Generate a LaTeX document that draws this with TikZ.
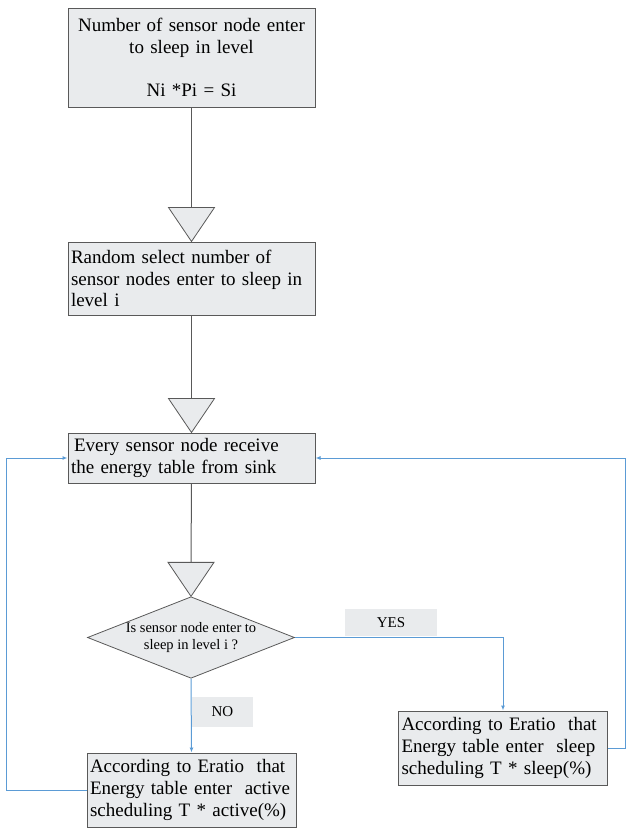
\documentclass[tikz,border=0pt]{standalone}
\usepackage{fontspec}
\setmainfont{Liberation Serif}
\usetikzlibrary{shapes.geometric,arrows.meta,calc}

\definecolor{boxgray}{HTML}{E9EBED}
\definecolor{edgegray}{HTML}{595959}
\definecolor{flowblue}{HTML}{5B9BD5}

\tikzset{
  box/.style={draw=edgegray, fill=boxgray, line width=1pt, inner sep=3pt,
    font=\rmfamily\fontsize{19}{21.5}\selectfont},
  step box/.style={box, minimum width=247pt, text width=241pt, align=left},
  sched/.style={box, text width=203pt, align=left, minimum height=74pt,
    font=\rmfamily\fontsize{19}{22}\selectfont},
  ask/.style={diamond, draw=edgegray, fill=boxgray, line width=0.8pt, inner sep=0pt,
    aspect=2.54, minimum width=206pt, minimum height=81pt, align=center,
    font=\rmfamily\fontsize{14.5}{17}\selectfont},
  tag/.style={fill=boxgray, inner sep=0pt, font=\rmfamily\fontsize{15}{17}\selectfont},
  stem/.style={draw=edgegray, line width=1pt},
  tri/.style={draw=edgegray, fill=boxgray, line width=0.8pt, line join=miter},
  flow/.style={draw=flowblue, line width=1pt, -{Latex[length=5pt,width=4pt]}}
}

\begin{document}
\begin{tikzpicture}[x=1pt, y=-1pt]
    \useasboundingbox (0,0) rectangle (626,828);

    % Main column
    \node[step box, align=center, minimum height=99pt] (num) at (191.5,57.5)
        {Number of sensor node enter\\ to sleep in level\\[21.5pt] Ni *Pi = Si};
    \node[step box, minimum height=73pt] (sel) at (191.5,278.5)
        {Random select number of\\ sensor nodes enter to sleep in\\ level i};
    \node[step box, minimum height=50pt] (recv) at (191.5,458)
        {\hspace{3pt}Every sensor node receive\\ the energy table from sink};
    \node[ask] (q) at (191,637.5) {Is sensor node enter to\\ sleep in level i ?};

    % Outcomes
    \node[sched] (act) at (191.5,790)
        {According to Eratio~ that\\ Energy table enter~ active\\ scheduling T * active(\%)};
    \node[sched] (slp) at (503,748)
        {According to Eratio~ that\\ Energy table enter~ sleep\\ scheduling T * sleep(\%)};

    % Stems with down triangles
    \foreach \s/\t in {num/sel, sel/recv, recv/q} {
        \draw[stem] (\s.south) -- ($(\t.north)+(0,-34)$);
        \draw[tri] (\t.north) -- ++(-23,-34) -- ++(46,0) -- cycle;
    }

    % Decision branches
    \draw[flow] (q.east) -| (slp.north);
    \draw[flow] (q.south) -- (act.north);
    \node[tag, minimum width=92pt, minimum height=27pt] (yes) at (391,622.5) {YES};
    \node[tag, minimum width=61pt, minimum height=30pt] (no) at (222.5,712) {NO};

    % Loop back to the sink table
    \coordinate (backL) at (6,790);
    \coordinate (backR) at (625,748);
    \draw[flow] (act.west) -- (backL) |- (recv.west);
    \draw[flow] (slp.east) -- (backR) |- (recv.east);

\end{tikzpicture}
\end{document}
